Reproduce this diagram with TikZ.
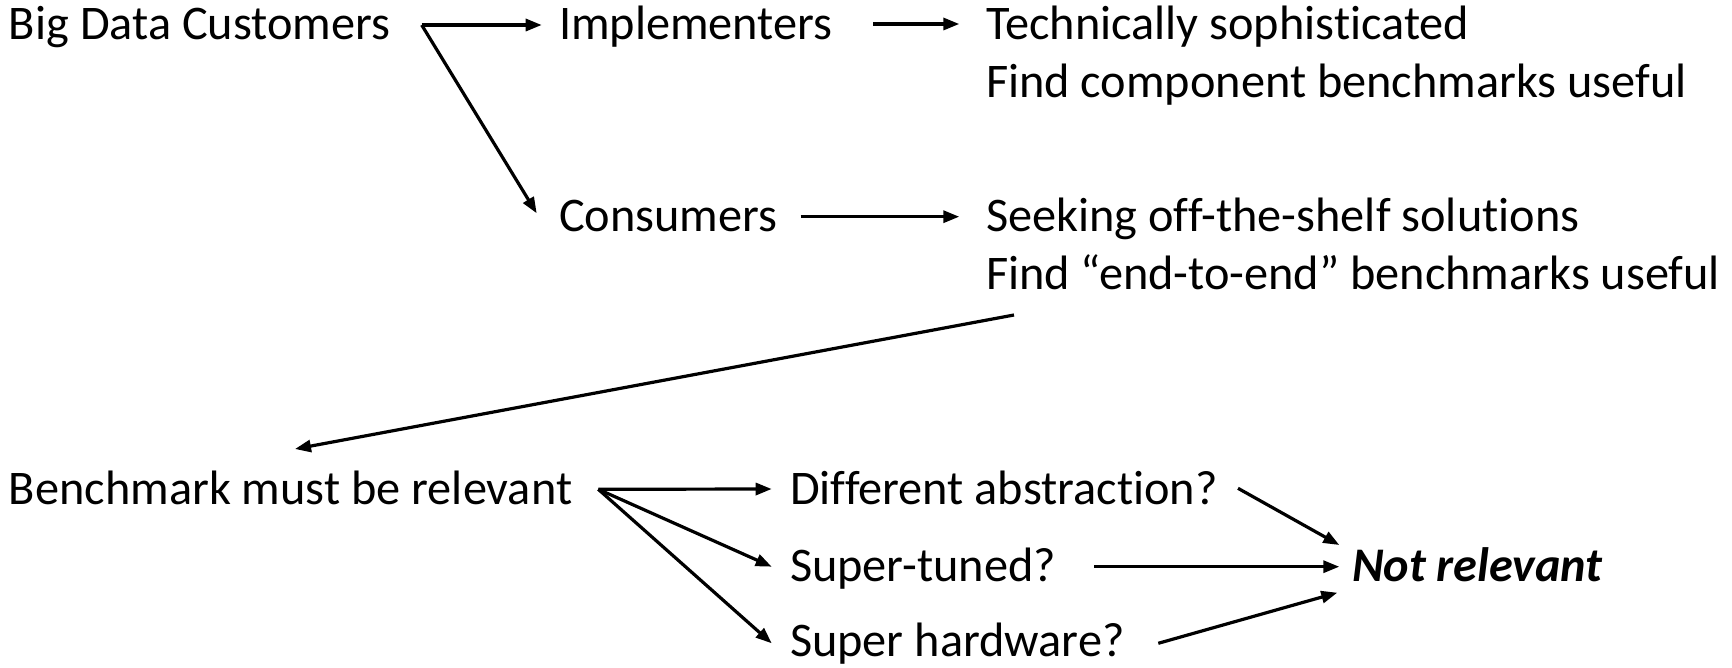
\documentclass[tikz,border=0pt]{standalone}
\usepackage{fontspec}
\setmainfont[Ligatures=NoCommon]{Carlito}
\usetikzlibrary{arrows.meta}
\begin{document}
\begin{tikzpicture}[x=1pt,y=-1pt,
  txt/.style={anchor=base west,inner sep=0pt,outer sep=0pt,
    font=\fontsize{48.3pt}{58pt}\selectfont},
  arr/.style={line width=3.2pt,-{Triangle[length=16pt,width=12pt]}}]
\useasboundingbox[fill=white] (0,0) rectangle (1732,668);

% text labels (positions are baselines)
\node[txt] (bdc)   at (9,40)      {Big Data Customers};
\node[txt] (impl)  at (559,40)    {Implementers};
\node[txt] (tech)  at (986,40)    {Technically sophisticated};
\node[txt] (techb) at (986,98)    {Find component benchmarks useful};
\node[txt] (cons)  at (559,231.5) {Consumers};
\node[txt] (seek)  at (986,231.5) {Seeking off-the-shelf solutions};
\node[txt] (seekb) at (986,289.5) {Find “end-to-end” benchmarks useful};
\node[txt] (bench) at (9,504)     {Benchmark must be relevant};
\node[txt] (diff)  at (790,504)   {Different abstraction?};
\node[txt] (tuned) at (790,581)   {Super-tuned?};
\node[txt] (hw)    at (790,656)   {Super hardware?};
\node[txt,font=\fontsize{48.3pt}{58pt}\selectfont\bfseries\itshape]
           (notrel) at (1352,581) {Not relevant};

% branching points
\coordinate (j1) at ([xshift=412.7pt,yshift=15pt]bdc.base west);
\coordinate (j2) at ([xshift=589.3pt,yshift=14.7pt]bench.base west);

% customers split
\draw[arr] (j1) -- ([xshift=-17.3pt,yshift=15pt]impl.base west);
\draw[arr] (j1) -- ([xshift=-22.3pt,yshift=18.2pt]cons.base west);
\draw[arr] ([xshift=314pt,yshift=16pt]impl.base west) -- ([xshift=-26.7pt,yshift=16pt]tech.base west);
\draw[arr] ([xshift=241.7pt,yshift=14.8pt]cons.base west) -- ([xshift=-26.7pt,yshift=14.8pt]seek.base west);

% back to relevance
\draw[arr] ([xshift=28pt,yshift=-25.5pt]seekb.base west) -- ([xshift=286pt,yshift=55pt]bench.base west);

% relevance questions
\draw[arr] (j2) -- ([xshift=-18.3pt,yshift=15pt]diff.base west);
\draw[arr] (j2) -- ([xshift=-18.3pt,yshift=14.3pt]tuned.base west);
\draw[arr] (j2) -- ([xshift=-18.3pt,yshift=12.7pt]hw.base west);

\draw[arr] ([xshift=448pt,yshift=15.7pt]diff.base west) -- ([xshift=-12.7pt,yshift=36pt]notrel.base west);
\draw[arr] ([xshift=304pt,yshift=14.3pt]tuned.base west) -- ([xshift=-12.7pt,yshift=14.3pt]notrel.base west);
\draw[arr] ([xshift=368.3pt,yshift=12.7pt]hw.base west) -- ([xshift=-14.7pt,yshift=-11.7pt]notrel.base west);
\end{tikzpicture}
\end{document}
